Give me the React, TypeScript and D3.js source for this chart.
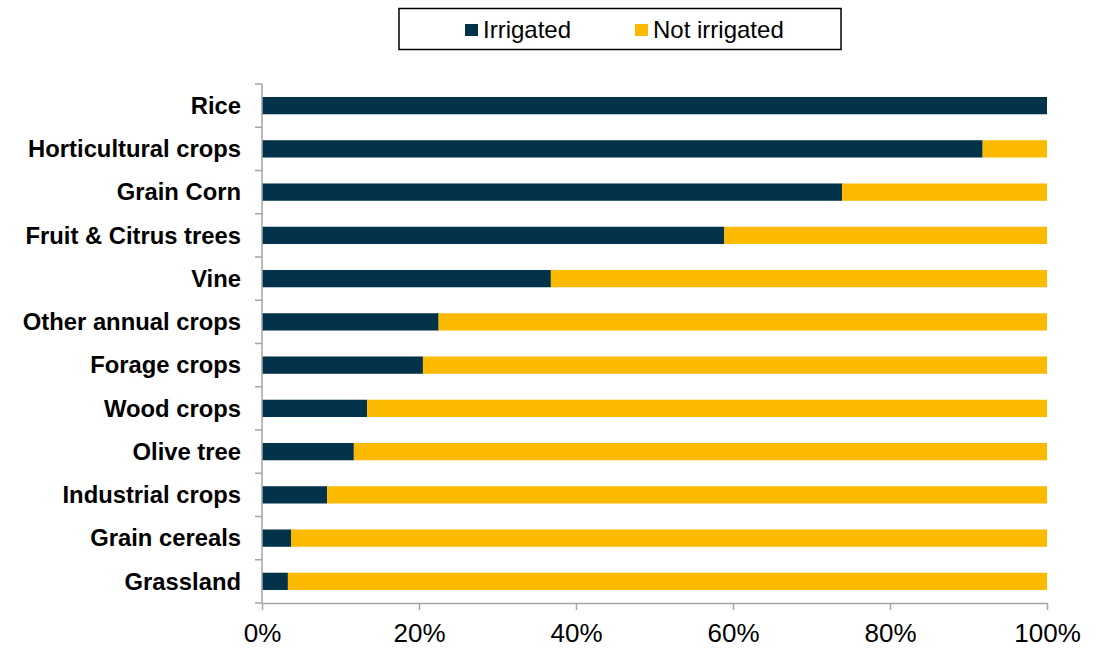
import { useEffect, useRef } from 'react'
import * as d3 from 'd3'

const categories = [
  'Rice',
  'Horticultural crops',
  'Grain Corn',
  'Fruit & Citrus trees',
  'Vine',
  'Other annual crops',
  'Forage crops',
  'Wood crops',
  'Olive tree',
  'Industrial crops',
  'Grain cereals',
  'Grassland',
]
const irrigated = [100, 91.8, 73.9, 58.9, 36.8, 22.5, 20.5, 13.4, 11.7, 8.3, 3.7, 3.3]
const notIrrigated = irrigated.map((v) => 100 - v)
const seriesNames = ['Irrigated', 'Not irrigated']
const seriesColors = ['#03324B', '#FBBA00']
const xTicks = [0, 20, 40, 60, 80, 100]

const App = () => {
  const svgRef = useRef(null)

  useEffect(() => {
    const width = 1104
    const height = 648
    const margin = { top: 84, right: 57, bottom: 45, left: 262 }
    const font = 'Arial, "Liberation Sans", sans-serif'

    const svg = d3.select(svgRef.current)
    svg.selectAll('*').remove()
    svg.attr('width', width).attr('height', height)

    const rows = categories.map((c, i) => ({ cat: c, irr: irrigated[i], not: notIrrigated[i] }))

    const x = d3.scaleLinear().domain([0, 100]).range([margin.left, width - margin.right])
    const y = d3
      .scaleBand()
      .domain(categories)
      .range([margin.top, height - margin.bottom])
      .paddingInner(0.6)
      .paddingOuter(0.3)

    const stack = d3.stack().keys(['irr', 'not'])
    const layers = stack(rows)

    // bars
    svg
      .append('g')
      .selectAll('g')
      .data(layers)
      .join('g')
      .attr('fill', (_, i) => seriesColors[i])
      .selectAll('rect')
      .data((d) => d)
      .join('rect')
      .attr('x', (d) => x(d[0]))
      .attr('y', (d) => y(d.data.cat))
      .attr('width', (d) => x(d[1]) - x(d[0]))
      .attr('height', y.bandwidth())

    const axisColor = '#a6a6a6'

    // y axis with ticks between categories
    const bandStep = (height - margin.bottom - margin.top) / categories.length
    const yAxisG = svg.append('g')
    yAxisG
      .append('line')
      .attr('x1', margin.left)
      .attr('x2', margin.left)
      .attr('y1', margin.top)
      .attr('y2', height - margin.bottom)
      .attr('stroke', axisColor)
      .attr('stroke-width', 1.5)
    yAxisG
      .selectAll('line.tick')
      .data(d3.range(categories.length + 1))
      .join('line')
      .attr('class', 'tick')
      .attr('x1', margin.left - 7)
      .attr('x2', margin.left)
      .attr('y1', (i) => margin.top + i * bandStep)
      .attr('y2', (i) => margin.top + i * bandStep)
      .attr('stroke', axisColor)
      .attr('stroke-width', 1.5)

    yAxisG
      .selectAll('text')
      .data(categories)
      .join('text')
      .attr('x', 241)
      .attr('y', (d) => y(d) + y.bandwidth() / 2)
      .attr('dy', '0.35em')
      .attr('text-anchor', 'end')
      .attr('font-family', font)
      .attr('font-weight', 'bold')
      .attr('font-size', 23.8)
      .attr('fill', '#000')
      .text((d) => d)

    // x axis
    const xAxis = d3
      .axisBottom(x)
      .tickValues(xTicks)
      .tickFormat((d) => `${d}%`)
      .tickSizeInner(7)
      .tickSizeOuter(0)
      .tickPadding(14)
    const xg = svg
      .append('g')
      .attr('transform', `translate(0,${height - margin.bottom})`)
      .call(xAxis)
    xg.select('.domain').attr('stroke', axisColor).attr('stroke-width', 1.5)
    xg.selectAll('.tick line').attr('stroke', axisColor).attr('stroke-width', 1.5)
    xg.selectAll('.tick text')
      .attr('font-family', font)
      .attr('font-size', 26)
      .attr('fill', '#000')

    // legend
    const legend = svg.append('g')
    legend
      .append('rect')
      .attr('x', 399)
      .attr('y', 8.5)
      .attr('width', 442)
      .attr('height', 41)
      .attr('fill', '#fff')
      .attr('stroke', '#000')
      .attr('stroke-width', 1.5)
    const legendX = [465, 635]
    seriesNames.forEach((name, i) => {
      legend
        .append('rect')
        .attr('x', legendX[i])
        .attr('y', 24)
        .attr('width', 13)
        .attr('height', 12)
        .attr('fill', seriesColors[i])
      legend
        .append('text')
        .attr('x', legendX[i] + 18)
        .attr('y', 30)
        .attr('dy', '0.35em')
        .attr('font-family', font)
        .attr('font-size', 24)
        .attr('fill', '#000')
        .text(name)
    })
  }, [])

  return <svg ref={svgRef} style={{ position: 'absolute', left: 0, top: 0 }}></svg>
}

export default App
